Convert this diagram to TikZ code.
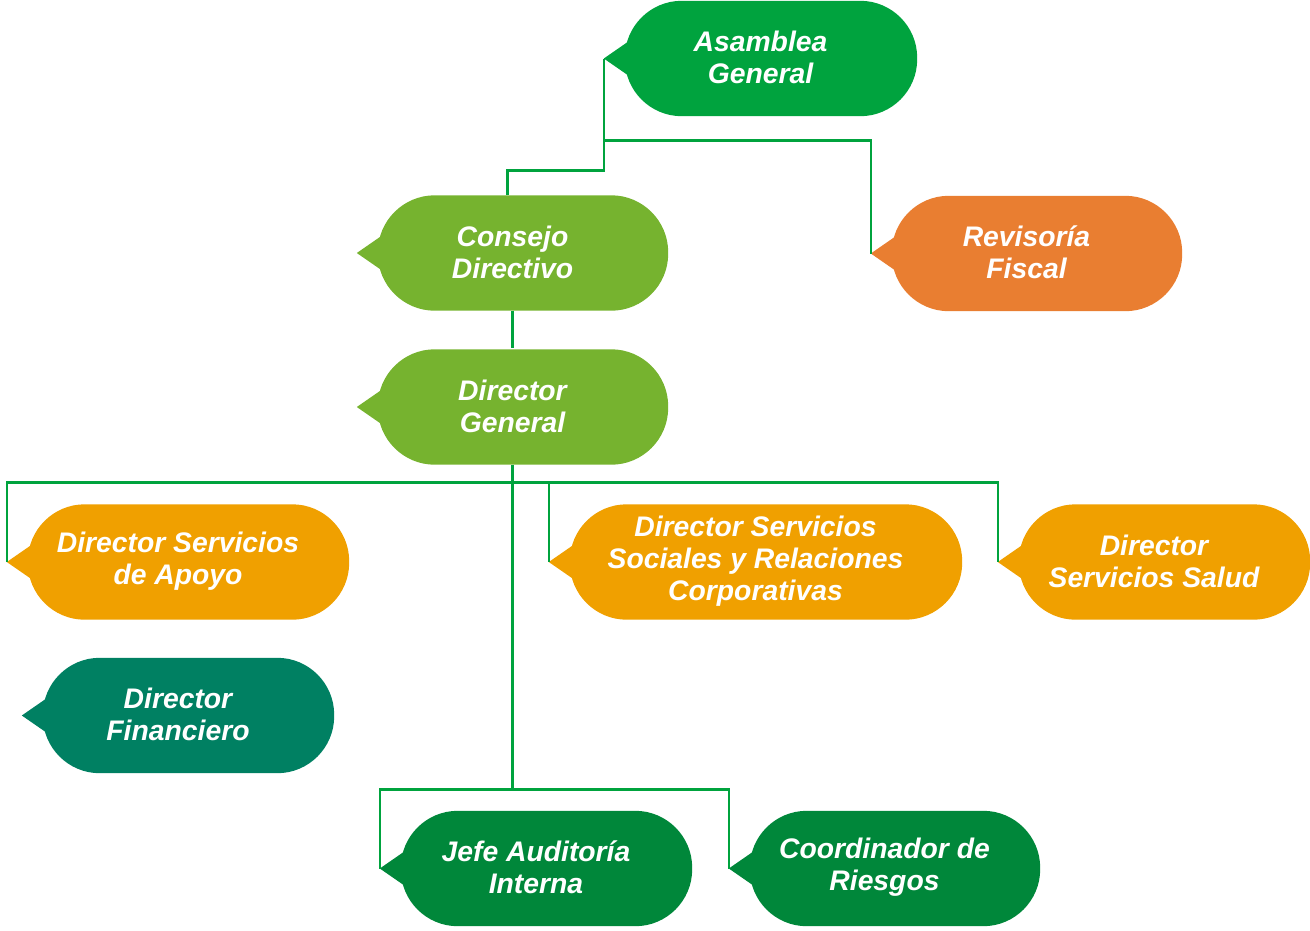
\documentclass[tikz,border=0pt]{standalone}
\usepackage{fontspec}
\setmainfont{Liberation Sans}
\usetikzlibrary{calc,backgrounds}
\definecolor{lineg}{RGB}{0,163,62}
\definecolor{cAsam}{RGB}{0,163,62}
\definecolor{cLight}{RGB}{118,179,47}
\definecolor{cRev}{RGB}{233,126,49}
\definecolor{cOra}{RGB}{240,160,0}
\definecolor{cTeal}{RGB}{0,128,98}
\definecolor{cDark}{RGB}{0,135,58}
\begin{document}
\begin{tikzpicture}[x=1pt,y=-1pt,
  box/.style={text=white, font=\bfseries\itshape\fontsize{28.3}{32}\selectfont,
    align=center, inner sep=0pt, minimum height=115pt},
  conn/.style={draw=lineg, line width=2.6pt}]
\useasboundingbox (0,0) rectangle (1310,930);

\node[box, minimum width=313pt] (asam) at (760.5,57.5) {Asamblea\\General};
\node[box, minimum width=311pt] (cons) at (512.5,252) {Consejo\\Directivo};
\node[box, minimum width=311pt] (rev) at (1026.5,252.5) {Revisoría\\Fiscal};
\node[box, minimum width=311pt] (dg) at (512.5,406) {Director\\General};
\node[box, minimum width=342pt] (apoyo) at (178,561) {Director Servicios\\de Apoyo};
\node[box, minimum width=413pt] (soc) at (755.5,561) {Director Servicios\\Sociales y Relaciones\\Corporativas};
\node[box, minimum width=312pt] (salud) at (1154,561) {Director\\Servicios Salud};
\node[box, minimum width=312pt] (fin) at (178,714.5) {Director\\Financiero};
\node[box, minimum width=312pt] (jefe) at (536,867.5) {Jefe Auditoría\\Interna};
\node[box, minimum width=311pt] (coord) at (884.5,867.5) {Coordinador de\\Riesgos};

\begin{scope}[on background layer]
\foreach \n/\c in {asam/cAsam, cons/cLight, rev/cRev, dg/cLight, apoyo/cOra,
                   soc/cOra, salud/cOra, fin/cTeal, jefe/cDark, coord/cDark} {
  \fill[\c, rounded corners=57pt] ($(\n.south west)+(21,1)$) rectangle ($(\n.north east)+(0,1)$);
  \fill[\c] ($(\n.west)+(26,-17)$) -- ($(\n.west)+(0,1)$) -- ($(\n.west)+(26,19)$) -- cycle;
}
\end{scope}

\coordinate (bus) at ($(dg.south)+(0,19)$);
\coordinate (abus) at ($(dg.south)+(0,326)$);

\draw[conn] ($(asam.west)+(0,1)$) |- ($(cons.north)+(-5,-24)$) -- ($(cons.north)+(-5,1)$);
\draw[conn] ($(asam.west)+(0,83)$) -| ($(rev.west)+(0,1)$);
\draw[conn] ($(cons.south)+(0,1)$) -- (dg.north);
\draw[conn] ($(apoyo.west)+(0,1)$) |- (bus) -| ($(salud.west)+(0,1)$);
\draw[conn] ($(soc.west)+(0,1)$) |- (bus);
\draw[conn] ($(dg.south)+(0,1)$) -- (abus);
\draw[conn] ($(jefe.west)+(0,1)$) |- (abus) -| ($(coord.west)+(0,1)$);
\end{tikzpicture}
\end{document}
